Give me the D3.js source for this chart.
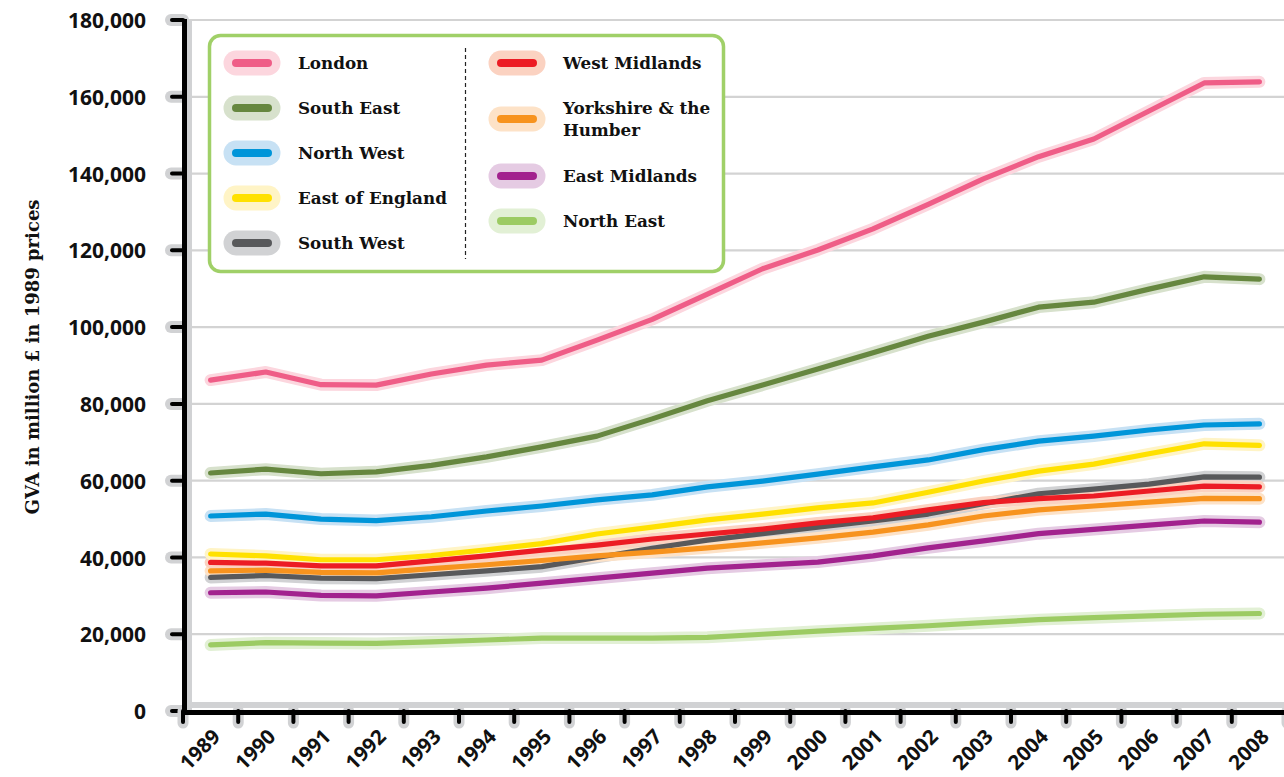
<!DOCTYPE html>
<html>
<head>
<meta charset="utf-8">
<script src="https://cdn.jsdelivr.net/npm/d3@7"></script>
<style>
  html, body { margin: 0; padding: 0; background: #fff; }
  svg { display: block; }
</style>
</head>
<body>
<svg id="chart" width="1284" height="777"></svg>
<script>
// ---------- DATA ----------
const years = [1989, 1990, 1991, 1992, 1993, 1994, 1995, 1996, 1997, 1998,
               1999, 2000, 2001, 2002, 2003, 2004, 2005, 2006, 2007, 2008];

const yTicks = [0, 20000, 40000, 60000, 80000, 100000, 120000, 140000, 160000, 180000];

const london       = [86200, 88300, 85000, 84900, 87800, 90100, 91400, 96600, 102000, 108600,
                      115200, 120100, 125600, 132000, 138600, 144400, 149000, 156300, 163600, 163900];
const southEast    = [62000, 63000, 61800, 62300, 64000, 66200, 68800, 71600, 76100, 80800,
                      84900, 89100, 93300, 97600, 101300, 105200, 106500, 109900, 113100, 112500];
const northWest    = [50800, 51300, 50000, 49600, 50600, 52100, 53400, 55000, 56300, 58400,
                      59900, 61700, 63600, 65400, 68100, 70300, 71600, 73200, 74500, 74800];
const eastEngland  = [40900, 40400, 39400, 39400, 40500, 42000, 43600, 46100, 47900, 49800,
                      51300, 52900, 54200, 57000, 59900, 62500, 64300, 67000, 69600, 69200];
const southWest    = [34800, 35300, 34600, 34500, 35500, 36500, 37600, 40000, 42400, 44500,
                      46200, 47900, 49500, 51300, 54000, 56600, 57800, 59100, 61000, 60900];
const westMidlands = [38700, 38500, 37800, 37800, 39100, 40400, 41900, 43200, 44800, 46100,
                      47400, 49000, 50300, 52400, 54300, 55300, 56000, 57300, 58600, 58400];
const yorkshire    = [36500, 36700, 36100, 36000, 37100, 38100, 39200, 40400, 41400, 42500,
                      43800, 45100, 46600, 48500, 50800, 52400, 53400, 54400, 55400, 55300];
const eastMidlands = [30800, 31000, 30100, 30000, 31000, 32000, 33300, 34600, 35900, 37200,
                      38000, 38800, 40400, 42500, 44300, 46200, 47300, 48400, 49500, 49200];
const northEast    = [17200, 17800, 17700, 17600, 18000, 18500, 19000, 19000, 19000, 19200,
                      20000, 20800, 21500, 22200, 23000, 23800, 24300, 24800, 25200, 25400];

const seriesNames  = ["London", "South East", "North West", "East of England", "South West",
                      "West Midlands", "Yorkshire & the Humber", "East Midlands", "North East"];
const seriesValues = [london, southEast, northWest, eastEngland, southWest,
                      westMidlands, yorkshire, eastMidlands, northEast];
const coreColors   = ["#ef5d87", "#66873f", "#0095d9", "#ffe100", "#58595b",
                      "#ec1c24", "#f7931e", "#a2228e", "#9ccb63"];
const haloColors   = ["#fcd6de", "#d7e1cc", "#c7e1f4", "#fff4c6", "#d1d2d4",
                      "#fbd2c1", "#fde2c7", "#e5cbe3", "#e2f0d5"];
const legendLines  = [["London"], ["South East"], ["North West"], ["East of England"], ["South West"],
                      ["West Midlands"], ["Yorkshire & the", "Humber"], ["East Midlands"], ["North East"]];

// ---------- LAYOUT ----------
const svg = d3.select("#chart");
const W = 1284, H = 777;
const x0 = 183, x1 = 1287, yTop = 20, yBot = 711;

const x = d3.scaleBand().domain(years).range([x0, x1]).padding(0);
const y = d3.scaleLinear().domain([0, 180000]).range([yBot, yTop]);
const cx = d => x(d) + x.bandwidth() / 2;

const sansFont = "'Open Sans', 'Noto Sans', sans-serif";
const slabFont = "'DejaVu Serif', serif";

// gridlines
svg.append("g").selectAll("line").data(yTicks.filter(d => d > 0)).join("line")
  .attr("x1", x0 + 4).attr("x2", W)
  .attr("y1", d => y(d)).attr("y2", d => y(d))
  .attr("stroke", "#d3d3d3").attr("stroke-width", 2.2);

// axis halos (grey shadows)
const halo = "#d1d2d4";
svg.append("line").attr("x1", x0 + 6).attr("x2", x0 + 6).attr("y1", yTop).attr("y2", yBot)
  .attr("stroke", halo).attr("stroke-width", 6);
svg.append("line").attr("x1", x0).attr("x2", W).attr("y1", yBot - 6).attr("y2", yBot - 6)
  .attr("stroke", halo).attr("stroke-width", 6);

// y tick halos
const yTickG = svg.append("g");
yTickG.selectAll("line.h").data(yTicks).join("line").attr("class", "h")
  .attr("x1", x0 - 12).attr("x2", x0).attr("y1", d => y(d)).attr("y2", d => y(d))
  .attr("stroke", halo).attr("stroke-width", 12).attr("stroke-linecap", "round");
// x tick halos
const edges = years.map(d => x(d)).concat([x1]);
svg.append("g").selectAll("line").data(edges).join("line")
  .attr("x1", d => d).attr("x2", d => d).attr("y1", yBot).attr("y2", yBot + 12)
  .attr("stroke", halo).attr("stroke-width", 11).attr("stroke-linecap", "round");

// black axis lines
svg.append("line").attr("x1", x0 + 1.5).attr("x2", x0 + 1.5).attr("y1", yTop - 1).attr("y2", yBot + 2)
  .attr("stroke", "#000").attr("stroke-width", 5);
svg.append("line").attr("x1", x0).attr("x2", W).attr("y1", yBot + 1.5).attr("y2", yBot + 1.5)
  .attr("stroke", "#000").attr("stroke-width", 5);
yTickG.selectAll("line.t").data(yTicks).join("line").attr("class", "t")
  .attr("x1", x0 - 11).attr("x2", x0).attr("y1", d => y(d)).attr("y2", d => y(d))
  .attr("stroke", "#000").attr("stroke-width", 4).attr("stroke-linecap", "round");
svg.append("g").selectAll("line").data(edges).join("line")
  .attr("x1", d => d).attr("x2", d => d).attr("y1", yBot).attr("y2", yBot + 11)
  .attr("stroke", "#000").attr("stroke-width", 4).attr("stroke-linecap", "round");

// y labels via axis
const yAxis = svg.append("g").attr("transform", `translate(${x0},0)`)
  .call(d3.axisLeft(y).tickValues(yTicks).tickFormat(d3.format(",")).tickSize(0).tickPadding(37));
yAxis.select(".domain").remove();
yAxis.selectAll("text").attr("font-family", sansFont).attr("font-weight", 700)
  .attr("font-size", 21).attr("fill", "#111").attr("dy", "0.36em");

// x labels via axis
const xAxis = svg.append("g").attr("transform", `translate(0,${yBot})`)
  .call(d3.axisBottom(x).tickSize(0).tickPadding(0));
xAxis.select(".domain").remove();
xAxis.selectAll("text")
  .attr("font-family", sansFont).attr("font-weight", 700).attr("font-size", 20.5).attr("fill", "#111")
  .attr("text-anchor", "end").attr("dy", null).attr("y", null)
  .attr("transform", "translate(11,27) rotate(-45)");

// y title
svg.append("text")
  .attr("transform", "translate(39,357) rotate(-90)")
  .attr("text-anchor", "middle")
  .attr("font-family", slabFont).attr("font-weight", 700).attr("font-size", 18).attr("fill", "#111")
  .text("GVA in million £ in 1989 prices");

// lines: all halos first, then all cores
const line = d3.line().x((d, i) => cx(years[i])).y(d => y(d)).curve(d3.curveLinear);
const drawOrder = [8, 7, 4, 6, 5, 3, 2, 1, 0];
const linesG = svg.append("g");
drawOrder.forEach(i => {
  linesG.append("path").datum(seriesValues[i]).attr("d", line)
    .attr("fill", "none").attr("stroke", haloColors[i]).attr("stroke-width", 12)
    .attr("stroke-linecap", "round").attr("stroke-linejoin", "round");
});
drawOrder.forEach(i => {
  linesG.append("path").datum(seriesValues[i]).attr("d", line)
    .attr("fill", "none").attr("stroke", coreColors[i]).attr("stroke-width", 5.2)
    .attr("stroke-linecap", "round").attr("stroke-linejoin", "round");
});

// legend
const lg = svg.append("g");
lg.append("rect").attr("x", 209.5).attr("y", 35.5).attr("width", 514).attr("height", 236)
  .attr("rx", 11).attr("fill", "#fff").attr("stroke", "#a0d068").attr("stroke-width", 3.5);
lg.append("line").attr("x1", 465.5).attr("x2", 465.5).attr("y1", 48).attr("y2", 259)
  .attr("stroke", "#222").attr("stroke-width", 1.2).attr("stroke-dasharray", "4,3");
const legendPos = [
  {sx: 252, tx: 298, y: 63}, {sx: 252, tx: 298, y: 108}, {sx: 252, tx: 298, y: 153},
  {sx: 252, tx: 298, y: 198}, {sx: 252, tx: 298, y: 243},
  {sx: 517, tx: 563, y: 63}, {sx: 517, tx: 563, y: 119}, {sx: 517, tx: 563, y: 176},
  {sx: 517, tx: 563, y: 221}
];
seriesNames.forEach((name, i) => {
  const p = legendPos[i];
  lg.append("line").attr("x1", p.sx - 16).attr("x2", p.sx + 16).attr("y1", p.y).attr("y2", p.y)
    .attr("stroke", haloColors[i]).attr("stroke-width", 25).attr("stroke-linecap", "round");
  lg.append("line").attr("x1", p.sx - 16).attr("x2", p.sx + 16).attr("y1", p.y).attr("y2", p.y)
    .attr("stroke", coreColors[i]).attr("stroke-width", 8).attr("stroke-linecap", "round");
  const lines = legendLines[i];
  const t = lg.append("text").attr("font-family", slabFont).attr("font-weight", 700)
    .attr("font-size", 16.8).attr("fill", "#111");
  lines.forEach((ln, k) => {
    t.append("tspan").attr("x", p.tx)
      .attr("y", p.y - (lines.length - 1) * 11 + k * 22)
      .attr("dy", "0.35em").text(ln);
  });
});
</script>
</body>
</html>
